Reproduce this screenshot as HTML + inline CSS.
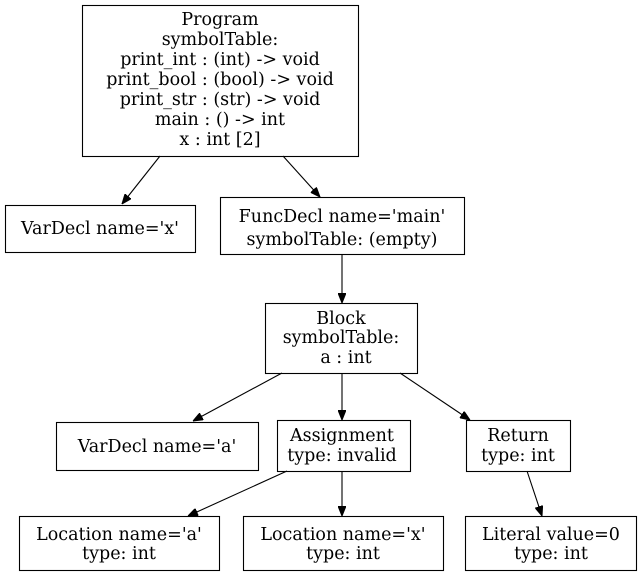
<!DOCTYPE html>
<html><head><meta charset="utf-8"><style>
html,body{margin:0;padding:0;background:#fff;}
svg{display:block;}
text{font-family:"DejaVu Serif",serif;font-size:17.5px;fill:#000;text-anchor:middle;}
rect{fill:#fff;stroke:#000;stroke-width:1.1;}
line{stroke:#000;stroke-width:1.1;}
polygon{fill:#000;stroke:#000;}
</style></head><body>
<svg width="642" height="576" viewBox="0 0 642 576" xmlns="http://www.w3.org/2000/svg">
<defs><marker id="a" markerWidth="10" markerHeight="8" refX="10" refY="4" orient="auto" markerUnits="userSpaceOnUse"><polygon points="0,0 10,4 0,8"/></marker></defs>
<rect x="82.5" y="5.5" width="276" height="151"/>
<text x="220" y="25">Program</text>
<text x="220" y="45">symbolTable:</text>
<text x="220" y="65">print_int : (int) -&gt; void</text>
<text x="220" y="85">print_bool : (bool) -&gt; void</text>
<text x="220" y="105">print_str : (str) -&gt; void</text>
<text x="220" y="125">main : () -&gt; int</text>
<text x="220" y="145">x : int [2]</text>

<rect x="5.5" y="205.5" width="190" height="47"/>
<text x="100" y="234">VarDecl name='x'</text>

<rect x="220.5" y="197.5" width="244" height="57"/>
<text x="342" y="222">FuncDecl name='main'</text>
<text x="342" y="245">symbolTable: (empty)</text>

<rect x="265.5" y="303.5" width="152" height="70"/>
<text x="341" y="324">Block</text>
<text x="341" y="343">symbolTable:</text>
<text x="346" y="363">a : int</text>

<rect x="56.5" y="422.5" width="202" height="48"/>
<text x="157" y="452">VarDecl name='a'</text>

<rect x="277.5" y="420.5" width="133" height="51"/>
<text x="342" y="441">Assignment</text>
<text x="342" y="461">type: invalid</text>

<rect x="466.5" y="420.5" width="104" height="51"/>
<text x="518" y="441">Return</text>
<text x="518" y="461">type: int</text>

<rect x="19.5" y="516.5" width="200" height="54"/>
<text x="119" y="540">Location name='a'</text>
<text x="119" y="559">type: int</text>

<rect x="243.5" y="516.5" width="200" height="54"/>
<text x="343" y="540">Location name='x'</text>
<text x="343" y="559">type: int</text>

<rect x="465.5" y="516.5" width="171" height="54"/>
<text x="551" y="540">Literal value=0</text>
<text x="551" y="559">type: int</text>

<line x1="160" y1="156" x2="122" y2="204" marker-end="url(#a)"/>
<line x1="283" y1="156" x2="320" y2="197" marker-end="url(#a)"/>
<line x1="342" y1="254" x2="342" y2="303" marker-end="url(#a)"/>
<line x1="282" y1="373" x2="193" y2="421" marker-end="url(#a)"/>
<line x1="342" y1="373" x2="342" y2="420" marker-end="url(#a)"/>
<line x1="400" y1="373" x2="470" y2="420" marker-end="url(#a)"/>
<line x1="287" y1="471" x2="188" y2="516" marker-end="url(#a)"/>
<line x1="342" y1="471" x2="342" y2="516" marker-end="url(#a)"/>
<line x1="527" y1="471" x2="542" y2="516" marker-end="url(#a)"/>
</svg>
</body></html>
